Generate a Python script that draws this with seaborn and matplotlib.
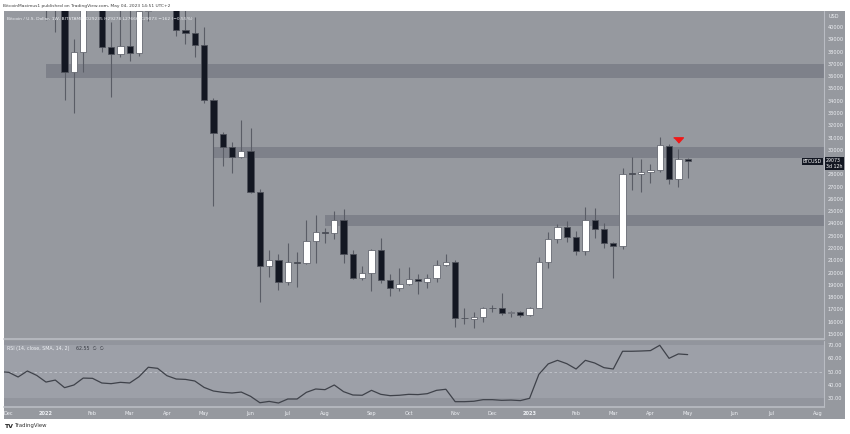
import matplotlib
matplotlib.use("Agg")
import matplotlib.pyplot as plt
import pandas as pd
import seaborn as sns

# weekly candles, index 0 = week of 3 Jan 2022
weeks = list(range(-4, 70))
opens = [49400, 50100, 46700, 50800, 47300, 41800, 43100, 36300, 37950, 42400,
         42200, 38370, 37800, 38450, 37880, 41300, 46800, 46400, 42200, 39750,
         39500, 38500, 34060, 31300, 30230, 29410, 29900, 26560, 20540, 21030,
         19240, 20860, 20800, 22570, 23300, 23230, 24280, 21520, 19560, 19970,
         21840, 19400, 18750, 19070, 19480, 19240, 19560, 20620, 20860, 16300,
         16220, 16390, 17120, 17120, 16710, 16800, 16550, 17120, 20860, 22740,
         23710, 22900, 21760, 24280, 23550, 22410, 22170, 28110, 28030, 28190,
         28360, 30310, 27620, 29250]
highs = [51900, 50500, 51900, 52100, 47600, 44500, 43500, 39000, 44500, 45800,
         44800, 40400, 45400, 42600, 42300, 46900, 48200, 47200, 42400, 42900,
         40800, 40000, 34200, 31450, 30640, 32430, 31780, 26800, 21840, 21500,
         22410, 21680, 24280, 24690, 23650, 25020, 25180, 21840, 20540, 21900,
         22820, 19890, 20380, 20460, 19890, 19890, 21030, 21520, 21030, 17120,
         16800, 17200, 17400, 18340, 16880, 16900, 17200, 21270, 23310, 23960,
         24200, 23400, 25340, 25260, 24050, 22500, 28520, 29410, 29250, 28850,
         31040, 30500, 30070, 29330]
lows = [47100, 45600, 45500, 45700, 40600, 39600, 34060, 33000, 36340, 41700,
        37960, 34300, 37560, 37230, 37600, 40500, 45100, 42100, 39250, 38650,
        37560, 33800, 25420, 28680, 28110, 29300, 26500, 17600, 19640, 18580,
        19000, 18830, 20700, 20780, 22420, 22750, 20780, 19520, 19400, 18500,
        19150, 18100, 18500, 19000, 18260, 18750, 19240, 20540, 15570, 15800,
        15490, 15980, 16800, 16550, 16400, 16400, 16500, 17120, 20380, 22420,
        22500, 21440, 21440, 22820, 22000, 19560, 21900, 26730, 26560, 27300,
        28200, 27210, 26970, 27700]
closes = [50100, 46700, 50800, 47300, 41800, 43100, 36340, 37950, 42400, 42200,
          38370, 37800, 38450, 37880, 41300, 46800, 46400, 42200, 39750, 39500,
          38500, 34060, 31370, 30230, 29410, 29900, 26560, 20540, 21030, 19240,
          20860, 20800, 22570, 23300, 23230, 24280, 21520, 19560, 19970, 21840,
          19400, 18750, 19070, 19480, 19320, 19560, 20620, 20860, 16300, 16280,
          16390, 17120, 17100, 16710, 16800, 16550, 17120, 20860, 22740, 23710,
          22900, 21760, 24280, 23550, 22410, 22170, 28030, 28030, 28190, 28360,
          30390, 27620, 29250, 29073]

# RSI(14) weekly, index -5 .. 69
rsi_weeks = list(range(-5, 70))
rsi_vals = [50.0, 49.5, 46.0, 50.5, 47.2, 42.2, 43.7, 38.0, 40.0, 45.2,
            45.0, 41.5, 41.0, 42.0, 41.5, 46.2, 53.3, 52.5, 47.0, 44.5,
            44.2, 43.0, 38.2, 35.5, 34.5, 34.0, 34.7, 31.5, 26.7, 27.7,
            26.5, 29.5, 29.5, 34.5, 37.0, 36.5, 40.0, 35.0, 32.5, 32.3,
            36.0, 33.0, 32.0, 32.3, 33.0, 32.8, 33.5, 36.0, 36.8, 27.5,
            27.5, 27.8, 29.0, 29.0, 28.5, 28.7, 28.3, 30.0, 48.0, 55.8,
            58.5, 56.0, 52.0, 58.5, 56.5, 53.0, 52.0, 65.3, 65.3, 65.5,
            65.8, 69.8, 60.0, 63.3, 62.8]

# horizontal zones: (start week, low, high)
zones = [(-0.05, 35850, 36990), (18.0, 29330, 30230), (30.0, 23800, 24690)]

month_weeks = [-4, 0, 5, 9, 13, 17, 22, 26, 30, 35, 39, 44, 48, 52, 57, 61, 65, 69, 74, 78, 83]
month_labels = ["Dec", "2022", "Feb", "Mar", "Apr", "May", "Jun", "Jul", "Aug", "Sep", "Oct",
                "Nov", "Dec", "2023", "Feb", "Mar", "Apr", "May", "Jun", "Jul", "Aug"]

price_ticks = [p for p in range(15000, 40001, 1000) if p != 29000]  # 29000 sits under the price tag

signal_week, signal_price = 68, 30800

df = pd.DataFrame({"week": weeks, "open": opens, "high": highs, "low": lows, "close": closes})
rsi = pd.DataFrame({"week": rsi_weeks, "rsi": rsi_vals})

sns.set_theme(style="white")
plt.rcParams["font.family"] = ["DejaVu Sans"]

W, H = 850, 434
bg = "#96999f"
zone_c = "#7e818a"
txt = "#eef0f4"
sep = "#b9bcc3"

fig = plt.figure(figsize=(W / 100, H / 100), dpi=100)
fig.patch.set_facecolor("white")


def rect(x0, y0, x1, y1):
    return [x0 / W, 1 - y1 / H, (x1 - x0) / W, (y1 - y0) / H]


back = fig.add_axes(rect(4, 11, 845, 419))
back.set_facecolor(bg)
back.set_xticks([])
back.set_yticks([])
for s in back.spines.values():
    s.set_visible(False)

ax = fig.add_axes(rect(4, 11, 824, 339))
ax.set_facecolor(bg)
rax = fig.add_axes(rect(4, 341, 824, 407))
rax.set_facecolor("#92959d")

xl = (-4.516, 83.66)

# candles
up = df["close"] >= df["open"]
ax.vlines(df["week"], df["low"], df["high"], color="#5a5d66", lw=0.8, zorder=2)
ax.bar(df["week"][up], (df["close"] - df["open"])[up], bottom=df["open"][up], width=0.68,
       color="white", edgecolor="#666972", lw=0.6, zorder=3)
ax.bar(df["week"][~up], (df["open"] - df["close"])[~up], bottom=df["close"][~up], width=0.68,
       color="#131722", edgecolor="#50535c", lw=0.6, zorder=3)

for x0, lo, hi in zones:
    ax.fill_between([x0, xl[1]], lo, hi, color=zone_c, lw=0, zorder=1)

ax.plot([signal_week], [signal_price], marker=[(-1, 0.55), (1, 0.55), (0, -0.55)],
        ms=7, color="#f01818", lw=0, zorder=4)

ax.set_xlim(*xl)
ax.set_ylim(14594, 41303)
ax.yaxis.tick_right()
ax.set_yticks(price_ticks)
ax.tick_params(axis="y", length=0, pad=2.4, labelsize=3.6, labelcolor=txt)
ax.set_xticks([])
for s in ax.spines.values():
    s.set_visible(False)
ax.axvline(xl[1], color=sep, lw=0.8, clip_on=False)
ax.axhline(14594, color=sep, lw=1.2, clip_on=False)

ax.text(0.004, 0.982, "Bitcoin / U.S. Dollar, 1W, BITSTAMP  O29235 H29278 L27666 C29073 \u2212162 (\u22120.55%)",
        transform=ax.transAxes, fontsize=3.2, color=txt, va="top", ha="left")

last = closes[-1]
ax.annotate("BTCUSD", xy=(1.0, last), xycoords=("axes fraction", "data"), xytext=(-2, 0),
            textcoords="offset pixels", ha="right", va="center", fontsize=3.4, color="white",
            bbox=dict(boxstyle="square,pad=0.25", fc="#131722", ec="none"), annotation_clip=False)
ax.annotate("29073\n3d 12h", xy=(1.0, last), xycoords=("axes fraction", "data"), xytext=(2, 3),
            textcoords="offset pixels", ha="left", va="top", fontsize=3.4, color="white",
            linespacing=1.1,
            bbox=dict(boxstyle="square,pad=0.3", fc="#131722", ec="none"), annotation_clip=False)
fig.text(834 / W, 1 - 17 / H, "USD", fontsize=3.6, color=txt, ha="center", va="center")

# RSI panel
rax.axhspan(30, 70, color="#9da0a8", lw=0, zorder=0)
rax.axhline(50, color="#c3c6cc", lw=0.6, ls=(0, (3, 3)), zorder=1)
sns.lineplot(data=rsi, x="week", y="rsi", ax=rax, color="#3f424a", lw=0.9, zorder=3)
rax.set_xlim(*xl)
rax.set_ylim(23.5, 73.0)
rax.yaxis.tick_right()
rax.set_yticks([30, 40, 50, 60, 70])
rax.set_yticklabels([f"{v:.2f}" for v in [30, 40, 50, 60, 70]])
rax.tick_params(axis="y", length=0, pad=2.4, labelsize=3.6, labelcolor=txt)
rax.set_xticks(month_weeks)
rax.set_xticklabels(month_labels)
rax.tick_params(axis="x", length=0, pad=3.0, labelsize=3.6, labelcolor=txt)
for lab in rax.get_xticklabels():
    if lab.get_text() in ("2022", "2023"):
        lab.set_fontweight("bold")
rax.set_xlabel("")
rax.set_ylabel("")
for s in rax.spines.values():
    s.set_visible(False)
rax.axvline(xl[1], color=sep, lw=0.8, clip_on=False)
rax.axhline(23.5, color=sep, lw=1.2, clip_on=False)
rax.text(0.004, 0.93, "RSI (14, close, SMA, 14, 2)", transform=rax.transAxes,
         fontsize=3.4, color=txt, va="top", ha="left")
rax.text(0.088, 0.93, "62.55  \u2205  \u2205", transform=rax.transAxes,
         fontsize=3.4, color="#3a3d45", va="top", ha="left")

fig.text(3 / W, 1 - 5.5 / H, "BitcoinMaximus1 published on TradingView.com, May 04, 2023 14:51 UTC+2",
         fontsize=3.2, color="#404040", ha="left", va="center")
fig.text(4 / W, 1 - 426 / H, "TV", fontsize=4.5, color="#222222", ha="left", va="center",
         fontweight="bold")
fig.text(14 / W, 1 - 426 / H, "TradingView", fontsize=3.9, color="#333333", ha="left", va="center")

fig.savefig("out.png", dpi=100, facecolor="white")
